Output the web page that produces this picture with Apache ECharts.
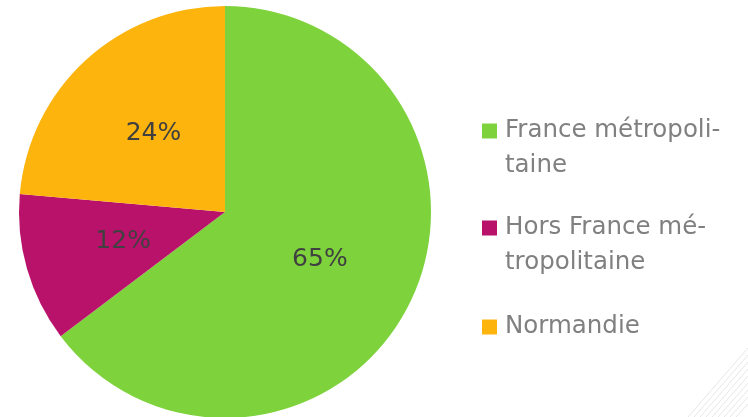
<!DOCTYPE html>
<html>
<head>
<meta charset="utf-8">
<script src="https://cdn.jsdelivr.net/npm/echarts@6/dist/echarts.min.js"></script>
<style>
  html, body { margin: 0; padding: 0; background: #fff; }
  #chart { width: 748px; height: 417px; }
</style>
</head>
<body>
<div id="chart"></div>
<script>
// slices, clockwise from 12 o'clock
var names = ['France métropolitaine', 'Hors France métropolitaine', 'Normandie'];
var values = [64.7, 11.7, 23.6];
var colors = ['#7ed33c', '#b9126a', '#fdb40d'];
// how the legend wraps each name
var legendLabels = ['France métropoli-\ntaine', 'Hors France mé-\ntropolitaine', 'Normandie'];
var legendCenters = [131, 228, 327];

var LH = 35;
var chart = echarts.init(document.getElementById('chart'));

var total = 0;
var pieData = [];
for (var i = 0; i < names.length; i++) {
    total += values[i];
    pieData.push({name: names[i], value: values[i], itemStyle: {color: colors[i]}});
}

// one legend per entry so the icon sits on the first line of the text
// (a blank line in front pushes the first text line onto the icon)
var legends = [];
for (var j = 0; j < names.length; j++) {
    var lines = legendLabels[j].split('\n').length;
    legends.push({
        data: [names[j]],
        orient: 'vertical',
        left: 482,
        top: legendCenters[j] - (lines > 1 ? LH * 1.5 : LH / 2),
        padding: 0,
        icon: 'rect',
        itemWidth: 15,
        itemHeight: 15,
        selectedMode: false,
        formatter: (function(k, n) {
            return function() { return (n > 1 ? '\n' : '') + legendLabels[k]; };
        })(j, lines),
        textStyle: {
            fontFamily: 'DejaVu Sans',
            fontSize: 24.5,
            lineHeight: LH,
            color: '#808080',
            padding: [0, 0, 0, 3]
        }
    });
}

// faint hatching in the bottom right corner
var hatch = [];
for (var h = 0; h < 9; h++) {
    hatch.push({
        type: 'line',
        shape: {x1: 688 + h * 6, y1: 417, x2: 748, y2: 348 + h * 7},
        style: {stroke: '#e6e6e6', lineWidth: 1},
        silent: true
    });
}

var option = {
    backgroundColor: '#fff',
    animation: false,
    legend: legends,
    graphic: hatch,
    series: [{
        type: 'pie',
        center: [225, 212],
        radius: 206,
        startAngle: 90,
        clockwise: true,
        data: pieData,
        label: {
            show: true,
            position: 'inside',
            // each slice rounded on its own, as in the original
            formatter: function(p) { return Math.round(p.value / total * 100) + '%'; },
            fontFamily: 'DejaVu Sans',
            fontSize: 25,
            color: '#404040'
        },
        labelLine: {show: false},
        emphasis: {disabled: true}
    }]
};
chart.setOption(option);
</script>
</body>
</html>
